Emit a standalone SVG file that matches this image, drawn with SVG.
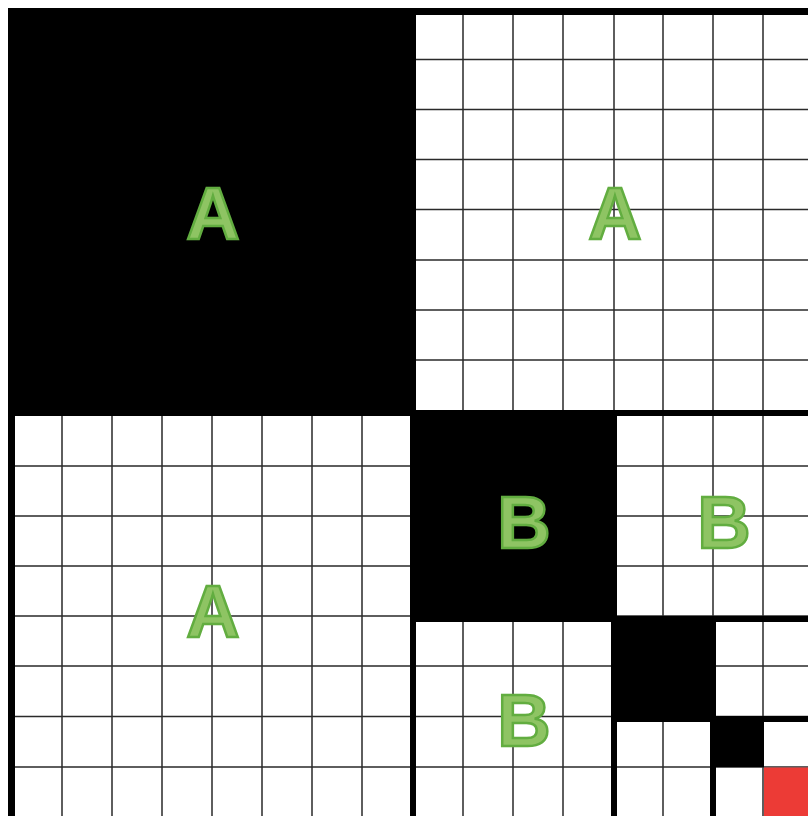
<svg xmlns="http://www.w3.org/2000/svg" width="808" height="816" viewBox="0 0 808 816">
<defs>
<style>
.g{stroke:#2a2a2a;stroke-width:1.5;fill:none}
.blk{fill:#000}
.lbl{font-family:"Liberation Sans",Arial,sans-serif;font-weight:bold;font-size:74px;fill:#8ec463;stroke:#62ad40;stroke-width:2.5;text-anchor:middle}
</style>
</defs>
<rect width="808" height="816" fill="#fff"/>
<g id="grid">
<path class="g" d="M62 8V816M112 8V816M162 8V816M212 8V816M262 8V816M312 8V816M362 8V816M463 8V816M513 8V816M563 8V816M614 8V816M663 8V816M713 8V816M763 8V816"/>
<path class="g" d="M416 59.5H808M416 109.5H808M416 159.5H808M416 209.5H808M416 260H808M416 310H808M416 360H808"/>
<path class="g" d="M8 466H808M8 516H808M8 566H808M8 616H808M8 666H808M8 716.5H808M8 767H808"/>
</g>
<g id="borders">
<rect class="blk" x="8" y="8" width="800" height="7"/>
<rect class="blk" x="8" y="8" width="7" height="808"/>
<rect class="blk" x="410" y="410" width="6" height="406"/>
<rect class="blk" x="410" y="410" width="398" height="6"/>
<rect class="blk" x="611" y="616" width="6" height="200"/>
<rect class="blk" x="410" y="616" width="398" height="6"/>
<rect class="blk" x="710" y="716" width="6" height="100"/>
<rect class="blk" x="611" y="716" width="197" height="6"/>
</g>
<g id="blockA1"><rect class="blk" x="8" y="8" width="408" height="408"/><text class="lbl" x="213" y="239">A</text></g>
<g id="blockA2"><text class="lbl" x="615" y="239">A</text></g>
<g id="blockA3"><text class="lbl" x="213" y="637">A</text></g>
<g id="blockB1"><rect class="blk" x="410" y="410" width="207" height="212"/><text class="lbl" x="524" y="548">B</text></g>
<g id="blockB2"><text class="lbl" x="724" y="548">B</text></g>
<g id="blockB3"><text class="lbl" x="524" y="746">B</text></g>
<g id="blockC1"><rect class="blk" x="611" y="616" width="105" height="106"/></g>
<g id="blockD1"><rect class="blk" x="710" y="716" width="54" height="51"/></g>
<g id="red"><rect x="764" y="767.5" width="44" height="48.5" fill="#ec3b36"/></g>
</svg>
